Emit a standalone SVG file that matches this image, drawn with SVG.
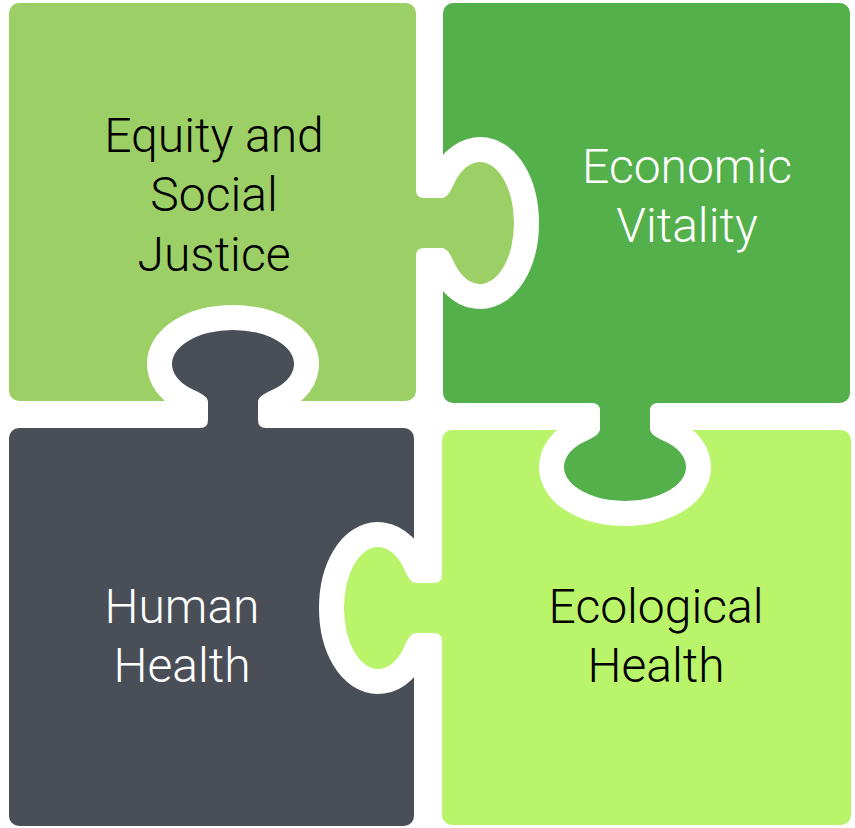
<svg xmlns="http://www.w3.org/2000/svg" xmlns:xlink="http://www.w3.org/1999/xlink" width="855" height="828" viewBox="0 0 855 828">
<style>
  .lbl { font-family: Roboto, "Liberation Sans", Arial, sans-serif; font-weight: 300; font-size: 48px; text-anchor: middle; }
  .dark { fill: #000000; }
  .light { fill: #ffffff; }
  .cut { fill: #000000; stroke: #000000; stroke-width: 50; stroke-linejoin: round; }
</style>
<defs>
  <path id="tab" d="M -6,-33 L 0,-33 Q 0,-25 8,-25 L 26,-25 C 31,-25 34.9,-32.3 37.4,-38 A 34 61 0 1 1 37.4 38 C 34.9,32.3 31,25 26,25 L 8,25 Q 0,25 0,33 L -6,33 Z"/>
  <mask id="mEconomic" maskUnits="userSpaceOnUse" x="0" y="0" width="855" height="828">
    <rect x="0" y="0" width="855" height="828" fill="#ffffff"/>
    <use xlink:href="#tab" class="cut" transform="translate(416,223)"/>
  </mask>
  <mask id="mEquity" maskUnits="userSpaceOnUse" x="0" y="0" width="855" height="828">
    <rect x="0" y="0" width="855" height="828" fill="#ffffff"/>
    <use xlink:href="#tab" class="cut" transform="translate(233,428) rotate(-90)"/>
  </mask>
  <mask id="mEcological" maskUnits="userSpaceOnUse" x="0" y="0" width="855" height="828">
    <rect x="0" y="0" width="855" height="828" fill="#ffffff"/>
    <use xlink:href="#tab" class="cut" transform="translate(625,403) rotate(90)"/>
  </mask>
  <mask id="mHuman" maskUnits="userSpaceOnUse" x="0" y="0" width="855" height="828">
    <rect x="0" y="0" width="855" height="828" fill="#ffffff"/>
    <use xlink:href="#tab" class="cut" transform="translate(442,608) rotate(180)"/>
  </mask>
</defs>
<rect x="0" y="0" width="855" height="828" fill="#ffffff"/>

<g id="equity">
  <rect x="9" y="3" width="407" height="398" rx="10" fill="#9CCF65" mask="url(#mEquity)"/>
  <use xlink:href="#tab" fill="#9CCF65" transform="translate(416,223)"/>
  <text class="lbl dark" x="214" y="152">Equity and</text>
  <text class="lbl dark" x="214" y="211">Social</text>
  <text class="lbl dark" x="214" y="271">Justice</text>
</g>

<g id="economic">
  <rect x="443" y="3" width="407" height="400" rx="10" fill="#53B04B" mask="url(#mEconomic)"/>
  <use xlink:href="#tab" fill="#53B04B" transform="translate(625,403) rotate(90)"/>
  <text class="lbl light" x="687" y="183">Economic</text>
  <text class="lbl light" x="687" y="242">Vitality</text>
</g>

<g id="human">
  <rect x="9" y="428" width="405" height="398" rx="10" fill="#4A4F57" mask="url(#mHuman)"/>
  <use xlink:href="#tab" fill="#4A4F57" transform="translate(233,428) rotate(-90)"/>
  <text class="lbl light" x="182" y="623">Human</text>
  <text class="lbl light" x="182" y="682">Health</text>
</g>

<g id="ecological">
  <rect x="442" y="430" width="409" height="395" rx="10" fill="#B9F46A" mask="url(#mEcological)"/>
  <use xlink:href="#tab" fill="#B9F46A" transform="translate(442,608) rotate(180)"/>
  <text class="lbl dark" x="656" y="623">Ecological</text>
  <text class="lbl dark" x="656" y="682">Health</text>
</g>

<g id="connectors"></g>
</svg>
